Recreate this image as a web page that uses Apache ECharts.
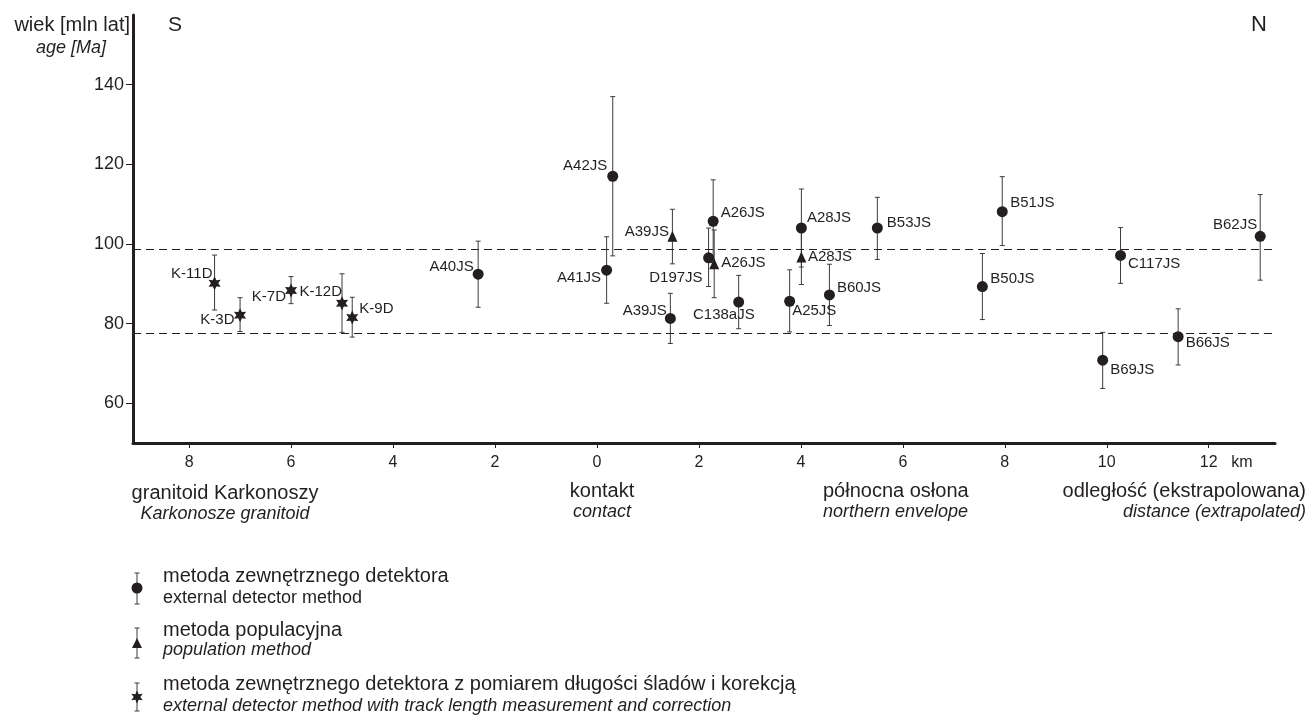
<!DOCTYPE html>
<html>
<head>
<meta charset="utf-8">
<script src="https://cdn.jsdelivr.net/npm/echarts@6.0.0/dist/echarts.min.js"></script>
<style>
html,body{margin:0;padding:0;background:#fff;}
#chart{width:1311px;height:726px;}
</style>
</head>
<body>
<div id="chart"></div>
<script>
// ---------------- DATA ----------------
// distance in km: negative = inside Karkonosze granitoid (S), positive = northern envelope (N)
const xTicks = [-8, -6, -4, -2, 0, 2, 4, 6, 8, 10, 12];
const yTicks = [60, 80, 100, 120, 140];
const refLines = [98.6, 77.5];

// external detector method (circles)
const edNames = ['A40JS','A41JS','A42JS','A39JS','D197JS','A26JS','C138aJS','A25JS','A28JS','B60JS','B53JS','B50JS','B51JS','B69JS','C117JS','B66JS','B62JS'];
const edDist  = [-2.33, 0.19, 0.31, 1.44, 2.19, 2.28, 2.78, 3.78, 4.01, 4.56, 5.50, 7.56, 7.95, 9.92, 10.27, 11.40, 13.01];
const edAge   = [92.4, 93.4, 117.0, 81.3, 96.5, 105.7, 85.4, 85.6, 104.0, 87.2, 104.0, 89.3, 108.1, 70.8, 97.1, 76.7, 101.9];
const edLow   = [84.1, 85.1, 97.0, 75.0, 89.3, 95.3, 78.7, 77.9, 94.2, 79.5, 96.1, 81.0, 99.6, 63.7, 90.1, 69.6, 90.9];
const edHigh  = [100.7, 101.8, 137.0, 87.6, 104.0, 116.1, 92.1, 93.5, 113.8, 94.9, 111.7, 97.6, 116.9, 77.8, 104.1, 83.7, 112.4];

// population method (triangles)
const popNames = ['A39JS','A26JS','A28JS'];
const popDist  = [1.48, 2.30, 4.01];
const popAge   = [101.9, 95.0, 96.7];
const popLow   = [95.0, 86.5, 89.8];
const popHigh  = [108.7, 103.5, 103.5];

// external detector method with track length measurement and correction (stars)
const tlNames = ['K-11D','K-3D','K-7D','K-12D','K-9D'];
const tlDist  = [-7.5, -7.0, -6.0, -5.0, -4.8];
const tlAge   = [90.1, 82.1, 88.3, 85.1, 81.5];
const tlLow   = [83.4, 78.0, 85.0, 77.8, 76.6];
const tlHigh  = [97.2, 86.5, 91.8, 92.5, 86.6];

// ---------------- LABEL PLACEMENT (styling) ----------------
const edPlace = [['left',6,-7.6],['left',5,8],['left',5,-10],['left',7,-8],['left',4.5,20],['right',-3,-8],
  ['left',26.5,13.3],['right',-8,9.3],['right',-5,-10.3],['right',-3,-6.7],['right',-1,-5.6],['right',-2.5,-8],
  ['right',-2.5,-9],['right',-3,9.3],['right',-3,8.4],['right',-3,6.6],['left',7.5,-12]];
const popPlace = [['left',6.5,-5],['right',-3,-1],['right',-3.5,0]];
const tlPlace = [['left',9,-9.6],['left',5.5,5],['left',6,6],['left',11,-11],['right',-4,-8.6]];
const leaderNames = ['D197JS'];

const INK = '#231f20';
const BAR = '#3c3c3c';
const FONT = '"Liberation Sans", Arial, Helvetica, sans-serif';

function starPoints(cx, cy, rOut, rIn) {
  const pts = [];
  for (let i = 0; i < 12; i++) {
    const a = -Math.PI / 2 + i * Math.PI / 6;
    const r = i % 2 === 0 ? rOut : rIn;
    pts.push([cx + r * Math.cos(a), cy + r * Math.sin(a)]);
  }
  return pts;
}
const starPath = 'path://' + starPoints(50, 50, 50, 26).map((p, i) => (i ? 'L' : 'M') + p[0].toFixed(2) + ' ' + p[1].toFixed(2)).join(' ') + ' Z';

function scatterData(names, dist, age, place) {
  return names.map((n, i) => ({
    name: n,
    value: [dist[i], age[i]],
    label: { position: place[i][0], offset: [place[i][1], place[i][2]] }
  }));
}
function barData(names, dist, low, high) {
  return names.map((n, i) => ({ name: n, value: [dist[i], low[i], high[i]] }));
}

function errorBarItem(params, api) {
  const x = api.value(0);
  const p1 = api.coord([x, api.value(1)]);
  const p2 = api.coord([x, api.value(2)]);
  const cap = 2.5;
  const style = { stroke: BAR, lineWidth: 1 };
  const children = [
    { type: 'line', shape: { x1: p1[0], y1: p1[1], x2: p2[0], y2: p2[1] }, style },
    { type: 'line', shape: { x1: p1[0] - cap, y1: p1[1], x2: p1[0] + cap, y2: p1[1] }, style },
    { type: 'line', shape: { x1: p2[0] - cap, y1: p2[1], x2: p2[0] + cap, y2: p2[1] }, style }
  ];
  const nm = params.data && params.data.name;
  if (leaderNames.indexOf(nm) >= 0 && params.seriesName === 'edBars') {
    const c = api.coord([x, edAge[edNames.indexOf(nm)]]);
    children.push({ type: 'line', shape: { x1: c[0] - 10.4, y1: c[1] + 14.3, x2: c[0] - 3.7, y2: c[1] + 6.6 }, style: { stroke: INK, lineWidth: 1 } });
  }
  return { type: 'group', children };
}

const labelStyle = { show: true, formatter: '{b}', color: INK, fontSize: 15, fontFamily: FONT, distance: 5 };

const graphics = [];
function txt(text, x, y, size, align, italic) {
  graphics.push({
    type: 'text', x: x, y: y, silent: true,
    style: { text: text, fill: INK, font: (italic ? 'italic ' : '') + size + 'px ' + FONT, textAlign: align, textVerticalAlign: 'middle' }
  });
}
txt('wiek [mln lat]', 130, 25, 20, 'right', false);
txt('age [Ma]', 106, 48, 18, 'right', true);
txt('S', 175, 25, 21, 'center', false);
txt('N', 1259, 25, 22, 'center', false);
txt('km', 1242, 463, 16, 'center', false);
txt('granitoid Karkonoszy', 225, 493, 20, 'center', false);
txt('Karkonosze granitoid', 225, 514, 18, 'center', true);
txt('kontakt', 602, 491, 20, 'center', false);
txt('contact', 602, 512, 18, 'center', true);
txt('północna osłona', 823, 491, 20, 'left', false);
txt('northern envelope', 823, 512, 18, 'left', true);
txt('odległość (ekstrapolowana)', 1306, 491, 20, 'right', false);
txt('distance (extrapolated)', 1306, 512, 18, 'right', true);

// legend
const LY = -9;
const legendRows = [
  { y1: 585, y2: 607, t1: 'metoda zewnętrznego detektora', t2: 'external detector method', it: false, sym: 'circle', cy: 597, top: 582, bot: 613 },
  { y1: 639, y2: 659, t1: 'metoda populacyjna', t2: 'population method', it: true, sym: 'triangle', cy: 653, top: 637, bot: 667 },
  { y1: 693, y2: 715, t1: 'metoda zewnętrznego detektora z pomiarem długości śladów i korekcją', t2: 'external detector method with track length measurement and correction', it: true, sym: 'star', cy: 706, top: 692, bot: 720 }
];
const LX = 137;
legendRows.forEach(r => {
  txt(r.t1, 163, r.y1 + LY, 20, 'left', false);
  txt(r.t2, 163, r.y2 + LY, 18, 'left', r.it);
  const st = { stroke: BAR, lineWidth: 1 };
  const top = r.top + LY, bot = r.bot + LY, cy = r.cy + LY;
  graphics.push({ type: 'line', silent: true, shape: { x1: LX, y1: top, x2: LX, y2: bot }, style: st });
  graphics.push({ type: 'line', silent: true, shape: { x1: LX - 2.5, y1: top, x2: LX + 2.5, y2: top }, style: st });
  graphics.push({ type: 'line', silent: true, shape: { x1: LX - 2.5, y1: bot, x2: LX + 2.5, y2: bot }, style: st });
  if (r.sym === 'circle') {
    graphics.push({ type: 'circle', silent: true, shape: { cx: LX, cy: cy, r: 5.5 }, style: { fill: INK } });
  } else if (r.sym === 'triangle') {
    graphics.push({ type: 'polygon', silent: true, shape: { points: [[LX, cy - 6], [LX + 5, cy + 4], [LX - 5, cy + 4]] }, style: { fill: INK } });
  } else {
    graphics.push({ type: 'polygon', silent: true, shape: { points: starPoints(LX, cy, 6.5, 3.3) }, style: { fill: INK } });
  }
});

const chart = echarts.init(document.getElementById('chart'), null, { renderer: 'canvas' });
chart.setOption({
  animation: false,
  backgroundColor: '#fff',
  grid: { left: 133, right: 36, top: 15, bottom: 283, containLabel: false },
  xAxis: {
    type: 'value', min: -9.1, max: 13.3,
    axisLine: { show: true, onZero: false, lineStyle: { color: INK, width: 3 } },
    axisTick: { show: true, customValues: xTicks, length: 5, lineStyle: { color: INK, width: 1 } },
    axisLabel: { show: true, customValues: xTicks, formatter: v => String(Math.abs(v)), color: INK, fontSize: 16, fontFamily: FONT, margin: 12 },
    splitLine: { show: false }
  },
  yAxis: {
    type: 'value', min: 50, max: 157.5,
    axisLine: { show: true, onZero: false, lineStyle: { color: INK, width: 3 } },
    axisTick: { show: true, customValues: yTicks, length: 7, lineStyle: { color: INK, width: 1 } },
    axisLabel: { show: true, customValues: yTicks, color: INK, fontSize: 18, fontFamily: FONT, margin: 9 },
    splitLine: { show: false }
  },
  graphic: graphics,
  series: [
    { name: 'edBars', type: 'custom', renderItem: errorBarItem, encode: { x: 0, y: [1, 2] }, data: barData(edNames, edDist, edLow, edHigh), z: 1, silent: true },
    { name: 'popBars', type: 'custom', renderItem: errorBarItem, encode: { x: 0, y: [1, 2] }, data: barData(popNames, popDist, popLow, popHigh), z: 1, silent: true },
    { name: 'tlBars', type: 'custom', renderItem: errorBarItem, encode: { x: 0, y: [1, 2] }, data: barData(tlNames, tlDist, tlLow, tlHigh), z: 1, silent: true },
    {
      name: 'ed', type: 'scatter', symbol: 'circle', symbolSize: 11, z: 3, silent: true,
      itemStyle: { color: INK, opacity: 1 },
      label: labelStyle,
      data: scatterData(edNames, edDist, edAge, edPlace),
      markLine: {
        silent: true, symbol: 'none', label: { show: false },
        lineStyle: { type: [8, 5], color: INK, width: 1 },
        data: refLines.map(v => ({ yAxis: v }))
      }
    },
    {
      name: 'pop', type: 'scatter', symbol: 'triangle', symbolSize: [10, 11], z: 3, silent: true,
      itemStyle: { color: INK, opacity: 1 },
      label: labelStyle,
      data: scatterData(popNames, popDist, popAge, popPlace)
    },
    {
      name: 'tl', type: 'scatter', symbol: starPath, symbolSize: 14, symbolKeepAspect: true, z: 3, silent: true,
      itemStyle: { color: INK, opacity: 1 },
      label: labelStyle,
      data: scatterData(tlNames, tlDist, tlAge, tlPlace)
    }
  ]
});
</script>
</body>
</html>
